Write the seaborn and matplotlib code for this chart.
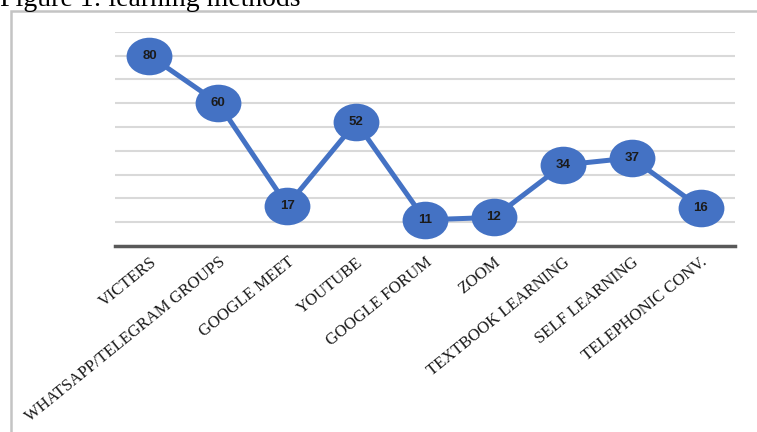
import matplotlib
matplotlib.use("Agg")
import matplotlib.pyplot as plt
import matplotlib.patches as patches
from matplotlib.path import Path
from matplotlib.transforms import Affine2D
import seaborn as sns
import pandas as pd

# chart data
methods = ["VICTERS", "WHATSAPP/TELEGRAM GROUPS", "GOOGLE MEET", "YOUTUBE",
           "GOOGLE FORUM", "ZOOM", "TEXTBOOK LEARNING", "SELF LEARNING",
           "TELEPHONIC CONV."]
counts = [80, 60, 17, 52, 11, 12, 34, 37, 16]
grid_values = [10, 20, 30, 40, 50, 60, 70, 80, 90]

df = pd.DataFrame({"method": methods, "count": counts})

sns.set_style("white")

fig = plt.figure(figsize=(7.57, 4.32), dpi=100)
ax = fig.add_axes([115 / 757, 1 - 246 / 432, 620 / 757, (246 - 31.7) / 432])

# ellipse shaped marker, a bit wider than tall
ellipse = Affine2D().scale(1.0, 0.82).transform_path(Path.unit_circle())

sns.lineplot(data=df, x="method", y="count", ax=ax, sort=False,
             color="#4472C4", linewidth=3.6, marker=ellipse,
             markersize=33, markeredgewidth=0, zorder=3)

for i, v in enumerate(counts):
    ax.text(i, v, str(v), ha="center", va="center", fontsize=9.5,
            fontweight="bold", color="#1b1b1b", family="Liberation Sans",
            zorder=4)

ax.set_xlim(-0.5, len(methods) - 0.5)
ax.set_ylim(0, 90)
ax.set_yticks(grid_values)
ax.set_yticklabels([])
ax.tick_params(axis="y", length=0)
ax.yaxis.grid(True, color="#d9d9d9", linewidth=1.5)
ax.set_axisbelow(True)
ax.set_xlabel("")
ax.set_ylabel("")

for side in ["top", "left", "right"]:
    ax.spines[side].set_visible(False)
ax.spines["bottom"].set_color("#595959")
ax.spines["bottom"].set_linewidth(2.5)

ax.tick_params(axis="x", length=0, pad=6)
ax.set_xticks(range(len(methods)))
ax.set_xticklabels(methods, rotation=39, ha="right", rotation_mode="anchor",
                   family="Liberation Serif", fontsize=12, color="#1a1a1a")

# outer frame of the figure box
frame = patches.Rectangle((11 / 757, -0.2), 1.2, 1.2 - 11 / 432,
                          transform=fig.transFigure, fill=False,
                          edgecolor="#c4c4c4", linewidth=1.8, zorder=0)
fig.patches.append(frame)

fig.text(0.0, 1 - 6 / 432, "Figure 1: learning methods", ha="left",
         va="baseline", family="Liberation Serif", fontsize=20, color="black")

fig.savefig("out.png", dpi=100)
